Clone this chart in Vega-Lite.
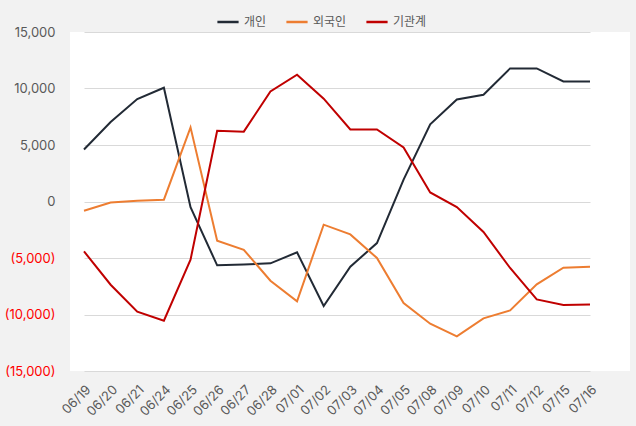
{
  "$schema": "https://vega.github.io/schema/vega-lite/v6.json",
  "autosize": "none",
  "width": 560,
  "height": 339,
  "padding": {"left": 70, "top": 32, "right": 6, "bottom": 55},
  "background": "#f2f2f2",
  "view": {"fill": "white", "stroke": null},
  "data": {"values": [
    {"d": "06/19", "s": "개인", "v": 4600}, {"d": "06/20", "s": "개인", "v": 7030}, {"d": "06/21", "s": "개인", "v": 9070}, {"d": "06/24", "s": "개인", "v": 10070},
    {"d": "06/25", "s": "개인", "v": -500}, {"d": "06/26", "s": "개인", "v": -5650}, {"d": "06/27", "s": "개인", "v": -5580}, {"d": "06/28", "s": "개인", "v": -5470},
    {"d": "07/01", "s": "개인", "v": -4500}, {"d": "07/02", "s": "개인", "v": -9250}, {"d": "07/03", "s": "개인", "v": -5770}, {"d": "07/04", "s": "개인", "v": -3680},
    {"d": "07/05", "s": "개인", "v": 1930}, {"d": "07/08", "s": "개인", "v": 6830}, {"d": "07/09", "s": "개인", "v": 9030}, {"d": "07/10", "s": "개인", "v": 9450},
    {"d": "07/11", "s": "개인", "v": 11780}, {"d": "07/12", "s": "개인", "v": 11780}, {"d": "07/15", "s": "개인", "v": 10630}, {"d": "07/16", "s": "개인", "v": 10630},
    {"d": "06/19", "s": "외국인", "v": -815}, {"d": "06/20", "s": "외국인", "v": -90}, {"d": "06/21", "s": "외국인", "v": 70}, {"d": "06/24", "s": "외국인", "v": 160},
    {"d": "06/25", "s": "외국인", "v": 6560}, {"d": "06/26", "s": "외국인", "v": -3470}, {"d": "06/27", "s": "외국인", "v": -4270}, {"d": "06/28", "s": "외국인", "v": -7010},
    {"d": "07/01", "s": "외국인", "v": -8840}, {"d": "07/02", "s": "외국인", "v": -2050}, {"d": "07/03", "s": "외국인", "v": -2910}, {"d": "07/04", "s": "외국인", "v": -5000},
    {"d": "07/05", "s": "외국인", "v": -8980}, {"d": "07/08", "s": "외국인", "v": -10815}, {"d": "07/09", "s": "외국인", "v": -11935}, {"d": "07/10", "s": "외국인", "v": -10345},
    {"d": "07/11", "s": "외국인", "v": -9635}, {"d": "07/12", "s": "외국인", "v": -7335}, {"d": "07/15", "s": "외국인", "v": -5860}, {"d": "07/16", "s": "외국인", "v": -5770},
    {"d": "06/19", "s": "기관계", "v": -4415}, {"d": "06/20", "s": "기관계", "v": -7365}, {"d": "06/21", "s": "기관계", "v": -9750}, {"d": "06/24", "s": "기관계", "v": -10550},
    {"d": "06/25", "s": "기관계", "v": -5150}, {"d": "06/26", "s": "기관계", "v": 6265}, {"d": "06/27", "s": "기관계", "v": 6180}, {"d": "06/28", "s": "기관계", "v": 9745},
    {"d": "07/01", "s": "기관계", "v": 11220}, {"d": "07/02", "s": "기관계", "v": 9100}, {"d": "07/03", "s": "기관계", "v": 6380}, {"d": "07/04", "s": "기관계", "v": 6380},
    {"d": "07/05", "s": "기관계", "v": 4790}, {"d": "07/08", "s": "기관계", "v": 805}, {"d": "07/09", "s": "기관계", "v": -490}, {"d": "07/10", "s": "기관계", "v": -2700},
    {"d": "07/11", "s": "기관계", "v": -5885}, {"d": "07/12", "s": "기관계", "v": -8660}, {"d": "07/15", "s": "기관계", "v": -9160}, {"d": "07/16", "s": "기관계", "v": -9105}
  ]},
  "mark": {"type": "line", "strokeWidth": 2},
  "encoding": {
    "x": {
      "field": "d", "type": "ordinal", "sort": null,
      "scale": {"type": "point", "range": [14, 520], "padding": 0},
      "axis": {
        "title": null, "labelAngle": -45, "labelFont": "Inter", "labelFontSize": 13,
        "labelColor": "#595959", "ticks": false, "domain": false, "grid": false, "labelPadding": 12
      }
    },
    "y": {
      "field": "v", "type": "quantitative",
      "scale": {"domain": [-15000, 15000], "nice": false},
      "axis": {
        "title": null, "values": [-15000, -10000, -5000, 0, 5000, 10000, 15000],
        "labelExpr": "datum.value < 0 ? '(' + format(-datum.value, ',') + ')' : format(datum.value, ',')",
        "labelColor": {"condition": {"test": "datum.value < 0", "value": "#ff0000"}, "value": "#595959"},
        "labelFont": "Inter", "labelFontSize": 13, "labelPadding": 15,
        "ticks": false, "domain": false, "gridColor": "#d9d9d9", "gridWidth": 1
      }
    },
    "color": {
      "field": "s", "type": "nominal",
      "scale": {"domain": ["개인", "외국인", "기관계"], "range": ["#222a35", "#ed7d31", "#c00000"]},
      "legend": {
        "title": null, "orient": "none", "direction": "horizontal", "legendX": 146, "legendY": -22,
        "symbolType": "stroke", "symbolStrokeWidth": 2.5, "symbolSize": 450,
        "labelFont": "Noto Sans CJK KR", "labelFontSize": 12, "labelColor": "#595959", "columnPadding": 14
      }
    }
  }
}
